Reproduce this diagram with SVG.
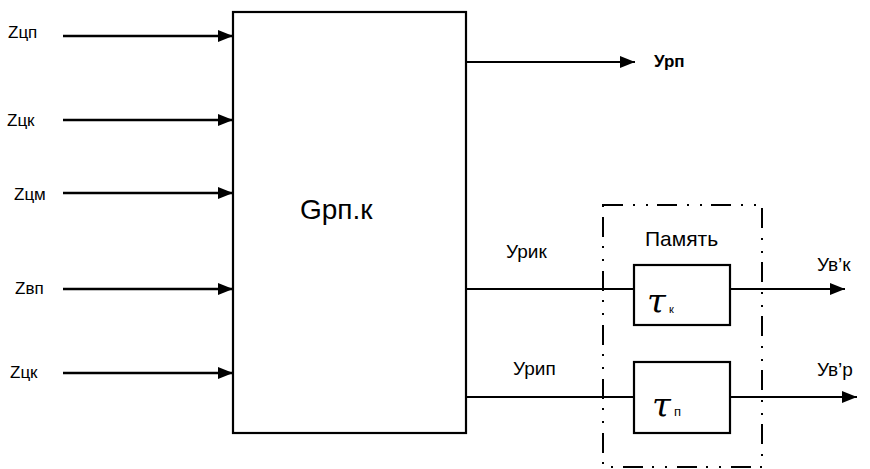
<svg xmlns="http://www.w3.org/2000/svg" width="870" height="469" viewBox="0 0 870 469">
<defs>
<marker id="ah" markerUnits="userSpaceOnUse" markerWidth="16" markerHeight="14" refX="15" refY="6" orient="auto">
<path d="M0,0 L15,6 L0,12 Z" fill="#000"/>
</marker>
<style>
.lbl{font-family:"Liberation Sans",Arial,sans-serif;fill:#000}
.in{stroke:#000;stroke-width:2.6;fill:none}
.ln{stroke:#000;stroke-width:2.2;fill:none}
.box{stroke:#000;stroke-width:2.2;fill:#fff}
.dd{stroke:#000;stroke-width:2;fill:none;stroke-dasharray:20 10 2 11 2 9}
.tau{font-family:"DejaVu Serif","Liberation Serif",serif;font-style:italic;font-size:34px;fill:#000}
</style>
</defs>
<rect width="870" height="469" fill="#fff"/>
<g id="connectors">
<line class="in" x1="63" y1="36" x2="233" y2="36" marker-end="url(#ah)"/>
<line class="in" x1="63" y1="120" x2="233" y2="120" marker-end="url(#ah)"/>
<line class="in" x1="63" y1="193" x2="233" y2="193" marker-end="url(#ah)"/>
<line class="in" x1="63" y1="289" x2="233" y2="289" marker-end="url(#ah)"/>
<line class="in" x1="63" y1="373" x2="233" y2="373" marker-end="url(#ah)"/>
<line class="ln" x1="466" y1="62" x2="635" y2="62" marker-end="url(#ah)"/>
<line class="ln" x1="466" y1="289" x2="634" y2="289"/>
<line class="ln" x1="466" y1="397" x2="634" y2="397"/>
<line class="ln" x1="730" y1="289" x2="845" y2="289" marker-end="url(#ah)"/>
<line class="ln" x1="730" y1="397" x2="857" y2="397" marker-end="url(#ah)"/>
</g>
<g id="inputs">
<text class="lbl" x="8" y="38" font-size="17">Zцп</text>
<text class="lbl" x="7" y="126" font-size="17">Zцк</text>
<text class="lbl" x="14" y="200" font-size="17">Zцм</text>
<text class="lbl" x="15" y="294" font-size="17">Zвп</text>
<text class="lbl" x="10" y="378" font-size="17">Zцк</text>
</g>
<g id="main">
<rect class="box" x="233" y="12" width="233" height="421"/>
<text class="lbl" x="300" y="219" font-size="28">Gpп.к</text>
</g>
<g id="outputs">
<text class="lbl" x="654" y="67" font-size="17" font-weight="bold">Урп</text>
<text class="lbl" x="506" y="258" font-size="19">Урик</text>
<text class="lbl" x="513" y="375" font-size="19">Урип</text>
<text class="lbl" x="817" y="271" font-size="19">Ув’к</text>
<text class="lbl" x="817" y="376" font-size="19">Ув’р</text>
</g>
<g id="memory">
<rect class="dd" x="603" y="205" width="159" height="262"/>
<text class="lbl" x="645" y="246" font-size="21">Память</text>
</g>
<g id="tau-k">
<rect class="box" x="634" y="265" width="96" height="60"/>
<text class="tau" x="647" y="313">τ</text>
<text class="lbl" x="669" y="313" font-size="11">к</text>
</g>
<g id="tau-p">
<rect class="box" x="634" y="362" width="96" height="71"/>
<text class="tau" x="652" y="417">τ</text>
<text class="lbl" x="674" y="416" font-size="13">п</text>
</g>
</svg>
